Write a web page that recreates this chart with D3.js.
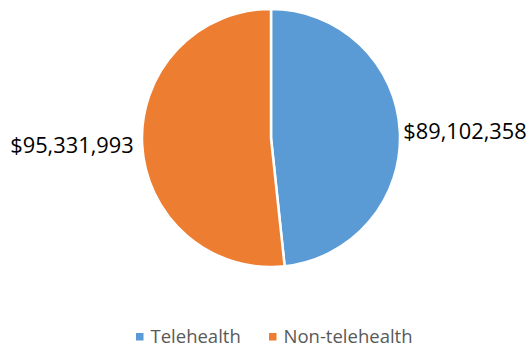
<!DOCTYPE html>
<html>
<head>
<meta charset="utf-8">
<script src="https://cdn.jsdelivr.net/npm/d3@7"></script>
<style>
  html, body { margin: 0; padding: 0; background: #fff; }
  svg { display: block; }
</style>
</head>
<body>
<svg id="chart" width="529" height="347"></svg>
<script>
// Spending split by service type
const categories = ["Telehealth", "Non-telehealth"];
const values = [89102358, 95331993];
const colors = ["#5B9BD5", "#ED7D31"];

const width = 529, height = 347;
const cx = 271, cy = 138, radius = 129;
const font = "'Open Sans', 'Liberation Sans', sans-serif";

const svg = d3.select("#chart");
const data = categories.map((c, i) => ({ name: c, value: values[i], color: colors[i] }));

const pie = d3.pie().value(d => d.value).sort(null);
const arcs = pie(data);
const arc = d3.arc().innerRadius(0).outerRadius(radius);

const g = svg.append("g").attr("transform", `translate(${cx},${cy})`);

g.selectAll("path.slice")
  .data(arcs)
  .join("path")
  .attr("class", "slice")
  .attr("d", arc)
  .attr("fill", d => d.data.color)
  .attr("stroke", "#fff")
  .attr("stroke-width", 2.5)
  .attr("stroke-linejoin", "round");

// Value labels just outside each slice
const fmt = d3.format("$,.0f");
const labelR = radius + 3.5;
const labelSize = 21.8;
g.selectAll("text.value")
  .data(arcs)
  .join("text")
  .attr("class", "value")
  .each(function (d) {
    const a = (d.startAngle + d.endAngle) / 2;
    const right = Math.sin(a) >= 0;
    const x = labelR * Math.sin(a) + (right ? 0 : -5);
    const y = -labelR * Math.cos(a);
    d3.select(this)
      .attr("x", x)
      .attr("y", y + labelSize * 0.38)
      .attr("text-anchor", right ? "start" : "end");
  })
  .attr("font-family", font)
  .attr("font-size", labelSize)
  .attr("fill", "#000")
  .text(d => fmt(d.data.value));

// Legend
const legend = svg.append("g").attr("font-family", font);
const legendX = [136, 269];
const legendBaseline = 342.5;
const items = legend.selectAll("g.item")
  .data(data)
  .join("g")
  .attr("class", "item")
  .attr("transform", (d, i) => `translate(${legendX[i]},${legendBaseline})`);
items.append("rect")
  .attr("x", 0).attr("y", -9.5)
  .attr("width", 7.5).attr("height", 7.5)
  .attr("fill", d => d.color);
items.append("text")
  .attr("x", 14.5)
  .attr("y", 0)
  .attr("font-size", 18.5)
  .attr("fill", "#595959")
  .text(d => d.name);
</script>
</body>
</html>
